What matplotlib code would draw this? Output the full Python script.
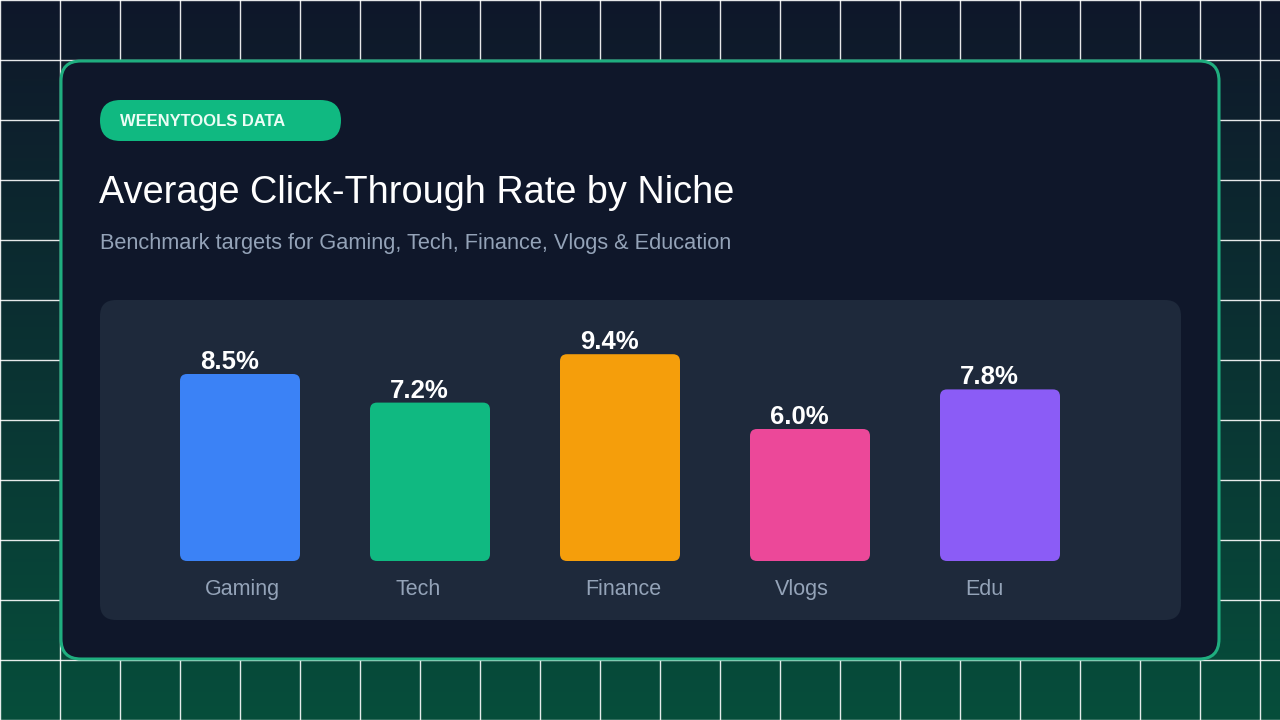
import numpy as np
import matplotlib.pyplot as plt
from matplotlib.patches import FancyBboxPatch

plt.rcParams['font.family'] = ['Liberation Sans', 'DejaVu Sans']

# data
niches = ['Gaming', 'Tech', 'Finance', 'Vlogs', 'Edu']
ctr = [8.5, 7.2, 9.4, 6.0, 7.8]
bar_colors = ['#3b82f6', '#10b981', '#f59e0b', '#ec4899', '#8b5cf6']
value_labels = ['8.5%', '7.2%', '9.4%', '6.0%', '7.8%']

badge_text = 'WEENYTOOLS DATA'
title = 'Average Click-Through Rate by Niche'
subtitle = 'Benchmark targets for Gaming, Tech, Finance, Vlogs & Education'

W, H = 1280, 720
fig = plt.figure(figsize=(W / 100, H / 100), dpi=100)

# background layer in pixel coords
bg = fig.add_axes([0, 0, 1, 1])
bg.set_xlim(0, W)
bg.set_ylim(H, 0)
bg.axis('off')

top = np.array([0x0f, 0x17, 0x2a]) / 255
bot = np.array([0x06, 0x4e, 0x3b]) / 255
t = np.linspace(0, 1, 256)[:, None]
grad = (top * (1 - t) + bot * t)[:, None, :]
bg.imshow(grad, extent=[0, W, H, 0], aspect='auto', zorder=0)

for gx in range(0, W + 1, 60):
    bg.axvline(gx, color='white', lw=1.0, alpha=0.9, zorder=1)
for gy in range(0, H + 1, 60):
    bg.axhline(gy, color='white', lw=1.0, alpha=0.9, zorder=1)

# card
card = FancyBboxPatch((61, 61), 1158, 598, boxstyle='round,pad=0,rounding_size=20',
                      fc='#0f172a', ec='#1fae7f', lw=2.2, zorder=2)
bg.add_patch(card)

# badge
badge = FancyBboxPatch((100, 100), 241, 41, boxstyle='round,pad=0,rounding_size=20.5',
                       fc='#10b981', ec='none', zorder=3)
bg.add_patch(badge)
bg.text(120, 121.5, badge_text, color='#ecfdf5', fontsize=11.9, fontweight='bold',
        ha='left', va='center', zorder=4)

bg.text(99, 193, title, color='white', fontsize=27.3, ha='left', va='center', zorder=4)
bg.text(100, 243, subtitle, color='#94a3b8', fontsize=15.7, ha='left', va='center', zorder=4)

# chart panel
panel = FancyBboxPatch((100, 300), 1081, 320, boxstyle='round,pad=0,rounding_size=16',
                       fc='#1e293b', ec='none', zorder=3)
bg.add_patch(panel)

# bar axes placed over the panel
px_x = 190.0   # pixels per category step
px_y = 22.0    # pixels per percent
ax = fig.add_axes([100 / W, (H - 620) / H, 1081 / W, 320 / H])
ax.patch.set_alpha(0)
ax.axis('off')
xmin = -140 / px_x
ymin = -59 / px_y
ax.set_xlim(xmin, xmin + 1081 / px_x)
ax.set_ylim(ymin, ymin + 320 / px_y)

x = np.arange(len(niches))
bw = 120 / px_x
bars = ax.bar(x, ctr, width=bw, color=bar_colors)
r = 7 / px_x
for b, c in zip(bars, bar_colors):
    b.set_visible(False)
    rb = FancyBboxPatch((b.get_x(), b.get_y()), b.get_width(), b.get_height(),
                        boxstyle=f'round,pad=0,rounding_size={r}',
                        mutation_aspect=px_x / px_y, fc=c, ec='none')
    ax.add_patch(rb)

for i, v in enumerate(ctr):
    left = x[i] - bw / 2
    ax.text(left + 20 / px_x, v + 5 / px_y, value_labels[i], color='white',
            fontsize=18.5, fontweight='bold', ha='left', va='baseline')
    ax.text(left + 25 / px_x, -34 / px_y, niches[i], color='#94a3b8',
            fontsize=15.5, ha='left', va='baseline')

fig.savefig('out.png', dpi=100)
